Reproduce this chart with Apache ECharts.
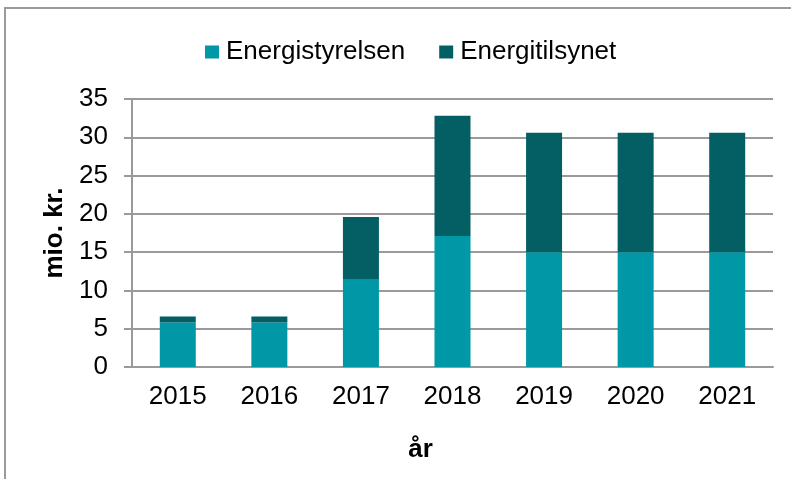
<!DOCTYPE html>
<html>
<head>
<meta charset="utf-8">
<script src="https://cdn.jsdelivr.net/npm/echarts@6/dist/echarts.min.js"></script>
<style>
  html, body { margin: 0; padding: 0; background: #fff; }
  #chart { width: 791px; height: 479px; }
</style>
</head>
<body>
<div id="chart"></div>
<script>
// data
var years = ['2015', '2016', '2017', '2018', '2019', '2020', '2021'];
var energistyrelsen = [5.8, 5.8, 11.4, 17.1, 15.0, 15.0, 15.0];
var energitilsynet = [0.8, 0.8, 8.2, 15.7, 15.6, 15.6, 15.6];

var font = 'Liberation Sans, Arial, sans-serif';
var gridColor = '#9a9a9a';

var myChart = echarts.init(document.getElementById('chart'), null, { renderer: 'canvas' });

myChart.setOption({
  animation: false,
  textStyle: { fontFamily: font },
  graphic: [
    {
      type: 'rect',
      shape: { x: 5, y: 8, width: 820, height: 520 },
      style: { fill: 'none', stroke: '#9a9a9a', lineWidth: 2 }
    }
  ],
  legend: {
    left: 200,
    top: 34,
    itemWidth: 14,
    itemHeight: 13,
    itemGap: 34,
    icon: 'rect',
    textStyle: { fontFamily: font, fontSize: 26, color: '#000', padding: [0, 0, 0, 2] },
    data: ['Energistyrelsen', 'Energitilsynet']
  },
  grid: { left: 132, right: 18, top: 99, bottom: 112 },
  xAxis: {
    type: 'category',
    data: years,
    name: 'år',
    nameLocation: 'middle',
    nameGap: 70,
    nameTextStyle: { fontFamily: font, fontSize: 26, fontWeight: 'bold', color: '#000', padding: [0, 64, 0, 0] },
    axisLine: { lineStyle: { color: gridColor, width: 2 } },
    axisTick: { show: false },
    axisLabel: { fontFamily: font, fontSize: 26, color: '#000', margin: 17 }
  },
  yAxis: {
    type: 'value',
    min: 0,
    max: 35,
    interval: 5,
    name: 'mio. kr.',
    nameLocation: 'middle',
    nameGap: 58,
    nameTextStyle: { fontFamily: font, fontSize: 26, fontWeight: 'bold', color: '#000' },
    axisLine: { show: true, lineStyle: { color: gridColor, width: 2 } },
    axisTick: { show: true, length: 8, lineStyle: { color: gridColor, width: 2 } },
    axisLabel: { fontFamily: font, fontSize: 26, color: '#000', margin: 24 },
    splitLine: { lineStyle: { color: gridColor, width: 2 } }
  },
  series: [
    {
      name: 'Energistyrelsen',
      type: 'bar',
      stack: 'total',
      barWidth: 36,
      itemStyle: { color: '#0097a7' },
      data: energistyrelsen
    },
    {
      name: 'Energitilsynet',
      type: 'bar',
      stack: 'total',
      barWidth: 36,
      itemStyle: { color: '#045f64' },
      data: energitilsynet
    }
  ]
});

window.addEventListener('resize', myChart.resize);
</script>
</body>
</html>
